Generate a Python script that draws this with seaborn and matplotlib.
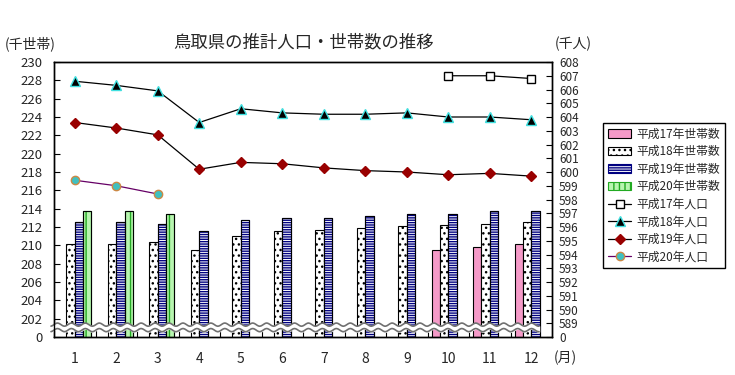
import numpy as np
import pandas as pd
import seaborn as sns
import matplotlib.pyplot as plt
import matplotlib.transforms as mtransforms
from matplotlib.patches import Patch, Rectangle
from matplotlib.lines import Line2D

sns.set_theme(style='ticks')
plt.rcParams['font.family'] = ['Noto Sans CJK JP', 'DejaVu Sans']
plt.rcParams['hatch.linewidth'] = 1.0

nan = np.nan
months = [str(m) for m in range(1, 13)]

# 世帯数（千世帯）
hh_h17 = [nan] * 9 + [209.5, 209.8, 210.1]
hh_h18 = [210.2, 210.2, 210.4, 209.5, 211.0, 211.6, 211.7, 211.9, 212.1, 212.2, 212.3, 212.6]
hh_h19 = [212.6, 212.5, 212.3, 211.6, 212.8, 213.0, 213.0, 213.2, 213.4, 213.4, 213.7, 213.8]
hh_h20 = [213.7, 213.7, 213.4] + [nan] * 9

# 人口（千人）
pop_h17 = [nan] * 9 + [607.0, 607.0, 606.8]
pop_h18 = [606.6, 606.3, 605.9, 603.6, 604.6, 604.3, 604.2, 604.2, 604.3, 604.0, 604.0, 603.8]
pop_h19 = [603.6, 603.2, 602.7, 600.2, 600.7, 600.6, 600.3, 600.1, 600.0, 599.8, 599.9, 599.7]
pop_h20 = [599.4, 599.0, 598.4] + [nan] * 9

bar_names = ['平成17年世帯数', '平成18年世帯数', '平成19年世帯数', '平成20年世帯数']
line_names = ['平成17年人口', '平成18年人口', '平成19年人口', '平成20年人口']

left_ticks = list(range(202, 231, 2))
right_ticks = list(range(589, 609))

df = pd.DataFrame({
    'month': months * 4,
    'series': np.repeat(bar_names, 12),
    'value': hh_h17 + hh_h18 + hh_h19 + hh_h20,
}).dropna()

# 棒のスタイル
bar_face = ['#f59ac8', 'white', 'white', '#b8f5b0']
bar_edge = ['black', 'black', '#000080', '#22aa22']
bar_hatch = [None, '...', '-------', '|||']

fig = plt.figure(figsize=(7.35, 3.75), dpi=100)
ax = fig.add_axes([54 / 735, 1 - 337 / 375, 498 / 735, 275 / 375])

sns.barplot(data=df, x='month', y='value', hue='series', order=months,
            hue_order=bar_names, palette=bar_face, saturation=1, width=0.8,
            errorbar=None, edgecolor='black', linewidth=0.8, legend=False, ax=ax)

for i, cont in enumerate(ax.containers):
    for p in cont:
        p.set_edgecolor(bar_edge[i])
        if bar_hatch[i]:
            p.set_hatch(bar_hatch[i])
        if bar_edge[i] != 'black':
            ax.add_patch(Rectangle(p.get_xy(), p.get_width(), p.get_height(),
                                   fill=False, edgecolor='black', linewidth=0.8,
                                   zorder=p.get_zorder() + 0.1))

ax.set_ylim(200, 230)
ax.set_yticks([200] + left_ticks)
ax.set_yticklabels(['0'] + [str(t) for t in left_ticks])
ax.set_xlabel('')
ax.set_ylabel('')

# 人口の折れ線（右軸）
ax2 = ax.twinx()
xi = np.arange(len(months))
line_styles = [
    dict(color='black', marker='s', markersize=6, markerfacecolor='white', markeredgecolor='black'),
    dict(color='black', marker='^', markersize=7, markerfacecolor='black', markeredgecolor='#40e0e0'),
    dict(color='black', marker='D', markersize=5.5, markerfacecolor='#990000', markeredgecolor='#990000'),
    dict(color='#660066', marker='o', markersize=6, markerfacecolor='#40c0c0', markeredgecolor='#cc8844'),
]
for vals, st in zip([pop_h17, pop_h18, pop_h19, pop_h20], line_styles):
    sns.lineplot(x=xi, y=vals, ax=ax2, linewidth=0.9, markeredgewidth=1,
                 legend=False, **st)

ax2.set_ylim(588, 608)
ax2.set_yticks([588] + right_ticks)
ax2.set_yticklabels(['0'] + [str(t) for t in right_ticks])
ax2.set_ylabel('')

ax.set_xlim(-0.5, 11.5)
ax.set_xticks(xi)
ax.set_xticklabels(months)
ax.set_xticks(np.arange(0.5, 11, 1), minor=True)
ax.tick_params(axis='x', which='major', length=0, pad=11, labelsize=10)
ax.tick_params(axis='x', which='minor', direction='in', length=5, width=0.8, color='black')
ax.tick_params(axis='y', direction='in', length=4, width=0.8, pad=8.5, labelsize=9.5, color='black')
ax2.tick_params(axis='y', direction='in', length=4, width=0.8, pad=5, labelsize=8.5, color='black')

for a in (ax, ax2):
    for s in a.spines.values():
        s.set_visible(True)
        s.set_color('black')
        s.set_linewidth(1)

# 軸の省略記号（波線）
trans = mtransforms.blended_transform_factory(ax.transAxes, ax.transData)
wx = np.linspace(-0.006, 0.974, 800)
wave = 0.17 * np.sin(2 * np.pi * wx / 0.028)
ax.fill_between(wx, 200.75 + wave, 201.35 + wave, transform=trans,
                color='white', zorder=5, clip_on=False)
ax.plot(wx, 201.35 + wave, transform=trans, color='#707070', lw=1.2, zorder=6, clip_on=False)
ax.plot(wx, 200.75 + wave, transform=trans, color='#707070', lw=1.2, zorder=6, clip_on=False)

# テキスト
fig.text(304 / 735, 1 - 42 / 375, '鳥取県の推計人口・世帯数の推移', ha='center', va='center', fontsize=12.5)
fig.text(5 / 735, 1 - 44 / 375, '(千世帯)', ha='left', va='center', fontsize=10)
fig.text(573 / 735, 1 - 44 / 375, '(千人)', ha='center', va='center', fontsize=10)
fig.text(565 / 735, 1 - 358 / 375, '(月)', ha='center', va='center', fontsize=10)

# 凡例
handles = []
for i in range(4):
    handles.append(Patch(facecolor=bar_face[i], edgecolor=bar_edge[i],
                         hatch=bar_hatch[i], linewidth=0.8))
for st in line_styles:
    handles.append(Line2D([], [], linewidth=0.9, markeredgewidth=1, **st))
leg = fig.legend(handles, bar_names + line_names, loc='upper left',
                 bbox_to_anchor=(603 / 735, 1 - 123 / 375), bbox_transform=fig.transFigure,
                 fontsize=8.5, frameon=True, fancybox=False, framealpha=1,
                 edgecolor='black', borderpad=0.4, labelspacing=0.38,
                 handlelength=2.0, handletextpad=0.4, borderaxespad=0)
leg.get_frame().set_linewidth(1)

fig.savefig('out.png', dpi=100)
